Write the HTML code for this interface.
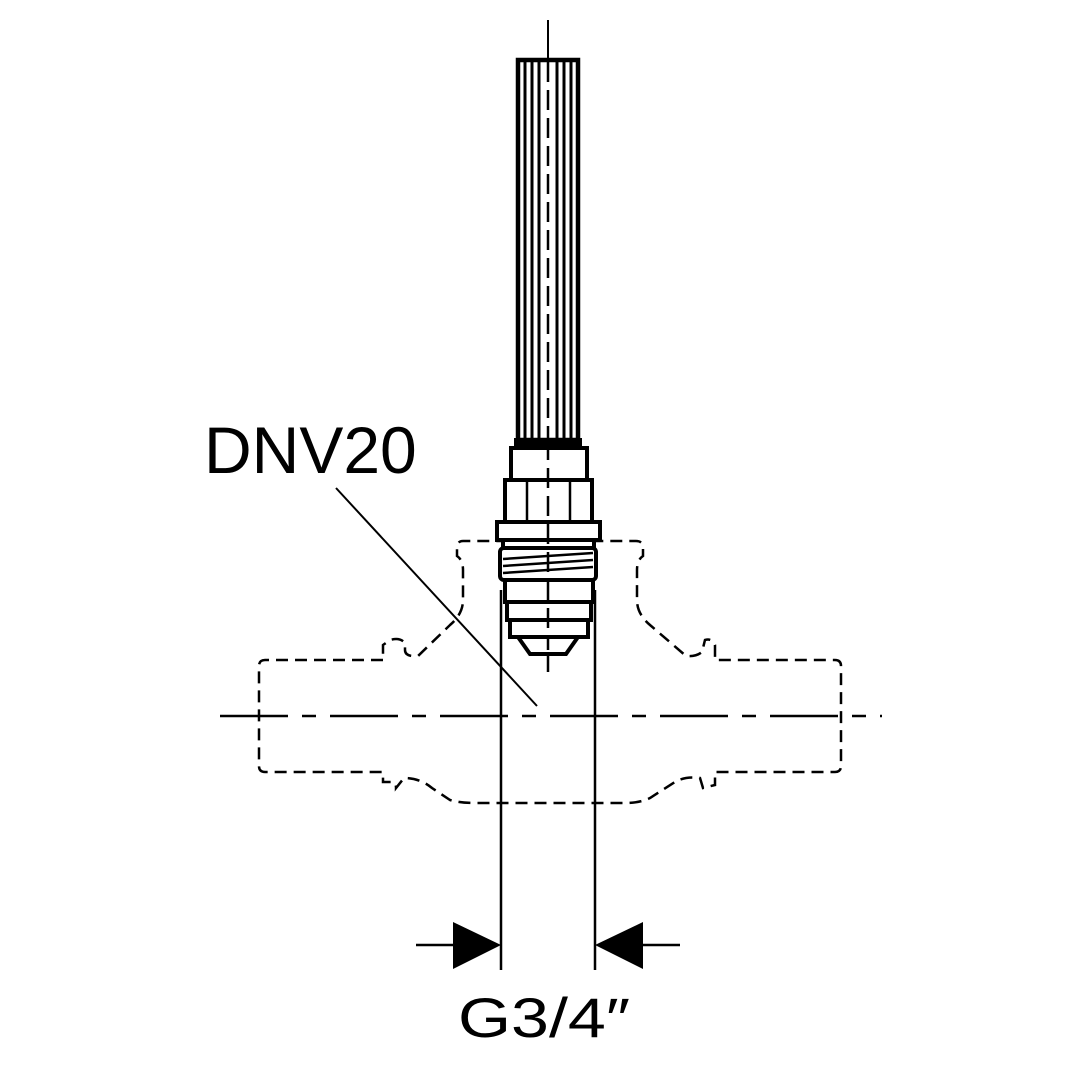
<!DOCTYPE html>
<html><head><meta charset="utf-8"><style>html,body{margin:0;padding:0;background:#fff}svg{display:block}</style></head>
<body>
<svg width="1080" height="1080" viewBox="0 0 1080 1080" xmlns="http://www.w3.org/2000/svg">
<rect width="1080" height="1080" fill="#fff"/>
<g fill="none" stroke="#000" stroke-width="2.5" stroke-dasharray="12,7">
<path d="M383,660 L265,660 Q259,660 259,666 L259,766 Q259,772 265,772 L383,772 L383,782 L392,782 Q396,782 396,788 L404,778 Q420,778 432,788 L450,800 Q460,803 475,803 L625,803 Q640,803 650,798 L675,782 Q685,776 700,778 L703,788 L715,785 L715,772 L835,772 Q841,772 841,766 L841,666 Q841,660 835,660 L715,660 L715,645 Q712,638 705,640 L702,652 Q696,657 686,656 L650,625 Q637,614 637,600 L637,570 Q637,560 643,556 L643,548 Q643,541 636,541 L463,541 Q457,541 457,548 L457,556 Q463,560 463,570 L463,600 Q463,614 450,625 L418,656 Q405,657 405,650 L405,643 Q400,637 390,640 L383,645 Z"/>
</g>
<line x1="220" y1="716" x2="882" y2="716" stroke="#000" stroke-width="2.5" stroke-dasharray="68,14,14,14"/>
<line x1="548" y1="20" x2="548" y2="60" stroke="#000" stroke-width="2"/>
<line x1="548" y1="440" x2="548" y2="680" stroke="#000" stroke-width="2.5" stroke-dasharray="22,8"/>
<rect x="518" y="60" width="60" height="380" fill="#fff" stroke="#000" stroke-width="4.5"/>
<g stroke="#000" stroke-width="3">
<line x1="525" y1="62" x2="525" y2="438"/><line x1="532" y1="62" x2="532" y2="438"/>
<line x1="539" y1="62" x2="539" y2="438"/>
<line x1="557" y1="62" x2="557" y2="438"/><line x1="564" y1="62" x2="564" y2="438"/>
<line x1="571" y1="62" x2="571" y2="438"/>
</g>
<line x1="548" y1="62" x2="548" y2="438" stroke="#000" stroke-width="2.5" stroke-dasharray="20,8"/>
<g fill="#fff" stroke="#000" stroke-width="4">
<rect x="516" y="440" width="64" height="7" fill="#000"/>
<rect x="511" y="448" width="76" height="32"/>
<rect x="505" y="480" width="87" height="42"/>
<rect x="497" y="522" width="103" height="18"/>
<rect x="503" y="540" width="91" height="8"/>
<rect x="500" y="548" width="96" height="32" rx="4"/>
<rect x="505" y="580" width="88" height="22"/>
<rect x="507" y="602" width="84" height="18"/>
<rect x="510" y="620" width="78" height="17"/>
<path d="M518,637 L578,637 L566,654 L530,654 Z"/>
</g>
<g stroke="#000" stroke-width="2.5">
<line x1="527" y1="482" x2="527" y2="520"/><line x1="570" y1="482" x2="570" y2="520"/>
<line x1="503" y1="559" x2="593" y2="553"/><line x1="503" y1="566" x2="593" y2="560"/>
<line x1="503" y1="573" x2="593" y2="567"/>
</g>
<line x1="548" y1="440" x2="548" y2="650" stroke="#000" stroke-width="2.5" stroke-dasharray="20,8"/>
<line x1="336" y1="488" x2="537" y2="706" stroke="#000" stroke-width="2"/>
<text x="204" y="473" font-family="Liberation Sans, sans-serif" font-size="66">DNV20</text>
<g stroke="#000" stroke-width="2.5">
<line x1="501" y1="590" x2="501" y2="970"/>
<line x1="595" y1="590" x2="595" y2="970"/>
<line x1="416" y1="945" x2="455" y2="945"/>
<line x1="640" y1="945" x2="680" y2="945"/>
</g>
<path d="M453,922 L501,945 L453,969 Z" fill="#000"/>
<path d="M643,922 L595,945 L643,969 Z" fill="#000"/>
<text x="458" y="1037" font-family="Liberation Sans, sans-serif" font-size="56" textLength="172" lengthAdjust="spacingAndGlyphs">G3/4″</text>
</svg>
</body></html>
